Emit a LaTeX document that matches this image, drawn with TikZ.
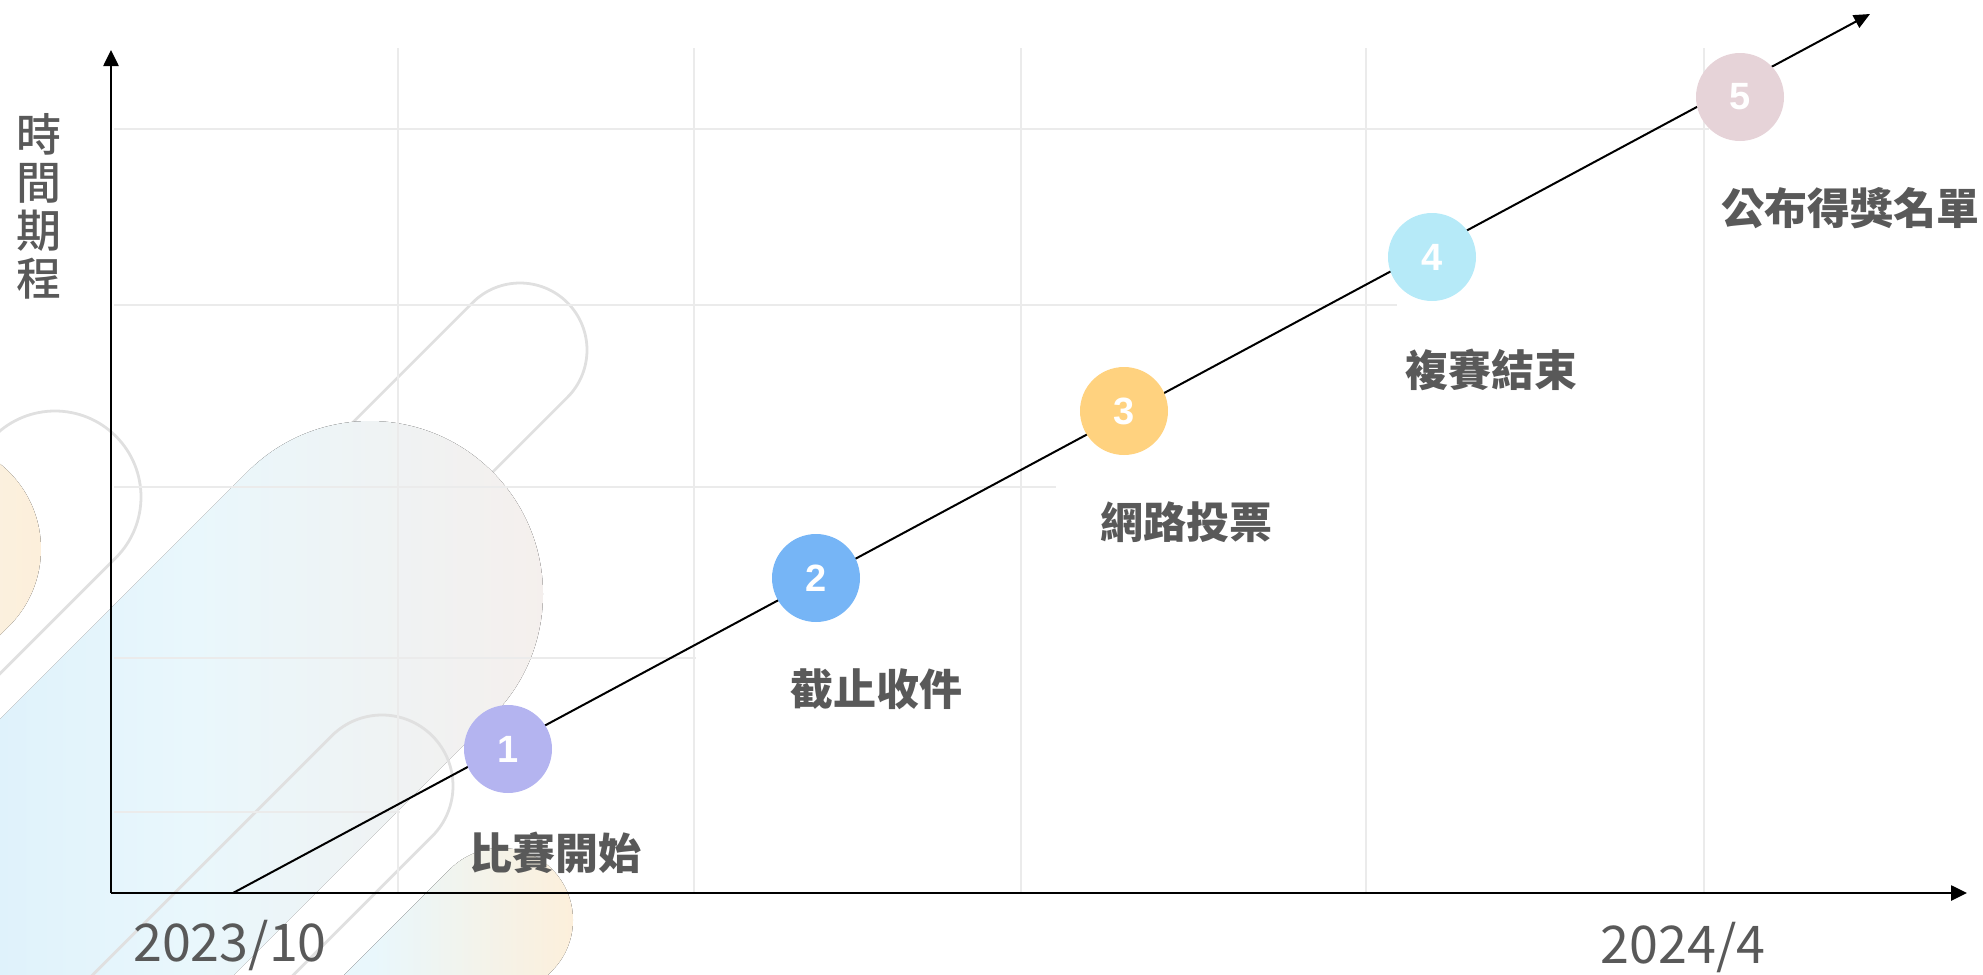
\documentclass[tikz,border=0pt]{standalone}
\usepackage{fontspec}
\setmainfont{Noto Sans CJK TC}
\newfontfamily\labelfont{Noto Sans CJK TC Black}
\newfontfamily\axisfont{Noto Sans CJK TC Medium}
\newfontfamily\numfont{Liberation Sans}
\usetikzlibrary{arrows.meta}

\definecolor{gridgray}{HTML}{EBEBEB}
\definecolor{pillgray}{HTML}{E0E0E0}
\definecolor{txtgray}{HTML}{595959}
\definecolor{skyblue}{HTML}{D6EDFA}
\definecolor{skylight}{HTML}{E9F7FC}
\definecolor{peach}{HTML}{FDEFDA}
\definecolor{peachgray}{HTML}{F5EFEC}
\definecolor{stepA}{HTML}{B4B4F0}
\definecolor{stepB}{HTML}{76B5F6}
\definecolor{stepC}{HTML}{FFD27F}
\definecolor{stepD}{HTML}{B6EAF8}
\definecolor{stepE}{HTML}{E6D3D8}

% pill shape: cap centre (x,y), radius, length towards lower left
\newcommand{\pillpath}[4]{(#1,#2) ++(45:#3) arc[start angle=45,end angle=-135,radius=#3] -- ++(135:#4) -- ++(45:{2*#3}) -- cycle}

\begin{document}
\begin{tikzpicture}[x=0.5pt,y=-0.5pt,
    gridline/.style={gridgray, line width=0.8pt},
    pillline/.style={pillgray, line width=1.4pt},
    axisline/.style={line width=1.3pt, -{Triangle[length=8pt,width=7.5pt]}},
    stepdot/.style={circle, minimum size=44pt, inner sep=0pt, text=white,
        font=\numfont\bfseries\fontsize{19}{21}\selectfont},
    steplabel/.style={text=txtgray, font=\labelfont\fontsize{21.5}{24}\selectfont},
    datelabel/.style={text=txtgray, font=\fontsize{26}{30}\selectfont}]

    \useasboundingbox (0,0) rectangle (1983,975);

    % background shapes
    \begin{scope}
        \clip (0,0) rectangle (1983,975);
        \fill[left color=skylight, right color=peach] \pillpath{-68}{549}{109}{400};
        \draw[pillline] \pillpath{55}{497}{86}{600};
        \draw[pillline] \pillpath{520}{350}{67}{400};
        \fill[left color=skyblue, right color=peachgray, middle color=skylight] \pillpath{370}{594}{173}{600};
        \draw[pillline] \pillpath{382}{786}{71}{400};
        \fill[left color=skylight, right color=peach, middle color=skylight] \pillpath{501}{920}{72}{400};
    \end{scope}

    % grid
    \foreach \x in {398,694,1021,1366,1704}
        \draw[gridline] (\x,48) -- (\x,893);
    \draw[gridline] (114,129) -- (1709,129);
    \draw[gridline] (114,305) -- (1397,305);
    \draw[gridline] (114,487) -- (1056,487);
    \draw[gridline] (114,658) -- (696,658);
    \draw[gridline] (114,812) -- (400,812);

    % axis
    \coordinate (O) at (111,893);
    \coordinate (ytop) at (111,50);
    \coordinate (xend) at (1967,893);
    \draw[axisline] (O) -- (ytop);
    \draw[axisline] (O) -- (xend);
    \node[text=txtgray, align=center, font=\axisfont\fontsize{22.5}{24}\selectfont] (ylab) at (39,206) {時\\間\\期\\程};
    \node[datelabel] (d1) at (230,946) {2023/10};
    \node[datelabel] (d2) at (1683,948) {2024/4};

    % timeline
    \coordinate (t0) at (233,893);
    \coordinate (t1) at (1870,14);
    \draw[line width=1pt, -{Triangle[length=8pt,width=7pt]}] (t0) -- (t1);

    % steps
    \node[stepdot, fill=stepA] (s1) at (508,749) {1};
    \node[stepdot, fill=stepB] (s2) at (816,578) {2};
    \node[stepdot, fill=stepC] (s3) at (1124,411) {3};
    \node[stepdot, fill=stepD] (s4) at (1432,257) {4};
    \node[stepdot, fill=stepE] (s5) at (1740,97) {5};
    \node[steplabel] (l1) at (555,853) {比賽開始};
    \node[steplabel] (l2) at (876,689) {截止收件};
    \node[steplabel] (l3) at (1186,522) {網路投票};
    \node[steplabel] (l4) at (1491,370) {複賽結束};
    \node[steplabel] (l5) at (1850,208) {公布得獎名單};
\end{tikzpicture}
\end{document}
